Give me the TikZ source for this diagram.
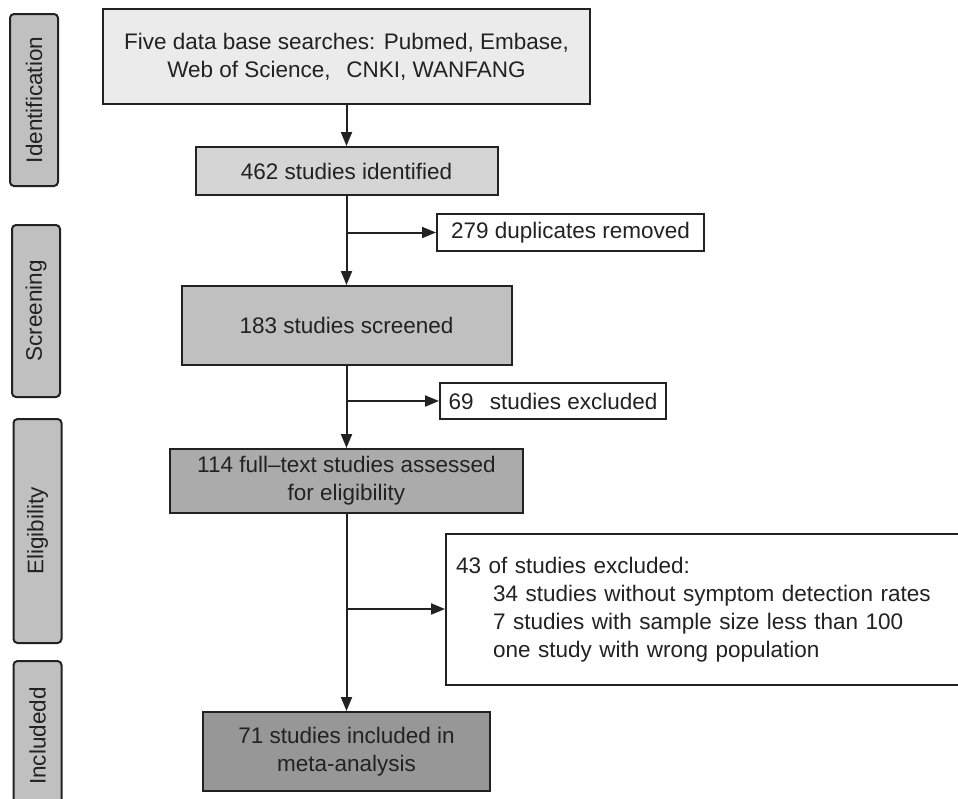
\documentclass[tikz,border=0pt]{standalone}
\usepackage{fontspec}
\setmainfont{Liberation Sans}
\usepackage{xcolor}
\usetikzlibrary{arrows.meta,positioning}
\definecolor{ink}{HTML}{222222}
\definecolor{shadeA}{HTML}{EBEBEB}
\definecolor{shadeB}{HTML}{D5D5D5}
\definecolor{shadeC}{HTML}{C0C0C0}
\definecolor{shadeD}{HTML}{ABABAB}
\definecolor{shadeE}{HTML}{979797}
\begin{document}
\begin{tikzpicture}[
			x=1pt,y=-1pt,
			font=\fontsize{22.5}{28}\selectfont,
			box/.style={draw=ink,line width=2pt,text=ink,align=center,inner sep=0pt},
			phase/.style={draw=ink,line width=2pt,fill=shadeC,text=ink,rounded corners=4pt,rotate=90,minimum height=48,inner sep=0pt},
			arrow/.style={-{Triangle[length=14pt,width=11pt]},line width=2pt,draw=ink}
			]
			\useasboundingbox (0,0) rectangle (958,798);
			% stage labels
			\node[phase, minimum width=172] (idlab) at (34,100) {Identification};
			\node[phase, minimum width=172] (sclab) at (36,311) {Screening};
			\node[phase, minimum width=224] (ellab) at (37.5,531) {Eligibility};
			\node[phase, minimum width=150] (inlab) at (37.5,736) {Includedd};
			% main column
			\node[box, fill=shadeA, minimum width=487, minimum height=95] (search) at (346.5,56.5) {Five data base searches: Pubmed, Embase,\\Web of Science,\hspace{0.7em}CNKI, WANFANG};
			\node[box, fill=shadeB, minimum width=302, minimum height=48] (ident) at (346.5,171) {462 studies identified};
			\node[box, fill=shadeC, minimum width=330, minimum height=79] (screen) at (346.5,325.5) {183 studies screened};
			\node[box, fill=shadeD, minimum width=353, minimum height=64] (elig) at (346.5,481) {114 full–text studies assessed\\for eligibility};
			\node[box, fill=shadeE, minimum width=287, minimum height=79] (incl) at (346.5,751.5) {71 studies included in\\meta-analysis};
			% side boxes
			\node[box, fill=white, minimum width=267, minimum height=37] (dup) at (570.5,232.5) {279 duplicates removed};
			\node[box, fill=white, minimum width=226, minimum height=36] (excl) at (553,401) {69\hspace{0.45em} studies excluded};
			\node[box, fill=white, anchor=north west, minimum width=520, minimum height=151, align=left, text width=500, inner xsep=10pt] (reason) at (445,533) {43 of studies excluded:\\
				\hspace*{37pt}34 studies without symptom detection rates\\
				\hspace*{37pt}7 studies with sample size less than 100\\
				\hspace*{37pt}one study with wrong population};
			% connectors
			\draw[arrow] (search)--(ident);
			\draw[arrow] (ident)--(screen);
			\draw[arrow] (screen)--(elig);
			\draw[arrow] (elig)--(incl);
			\draw[arrow] (ident.south |- dup.west)--(dup.west);
			\draw[arrow] (screen.south |- excl.west)--(excl.west);
			\draw[arrow] (elig.south |- 0,609)--(reason.west |- 0,609);
		\end{tikzpicture}
\end{document}
